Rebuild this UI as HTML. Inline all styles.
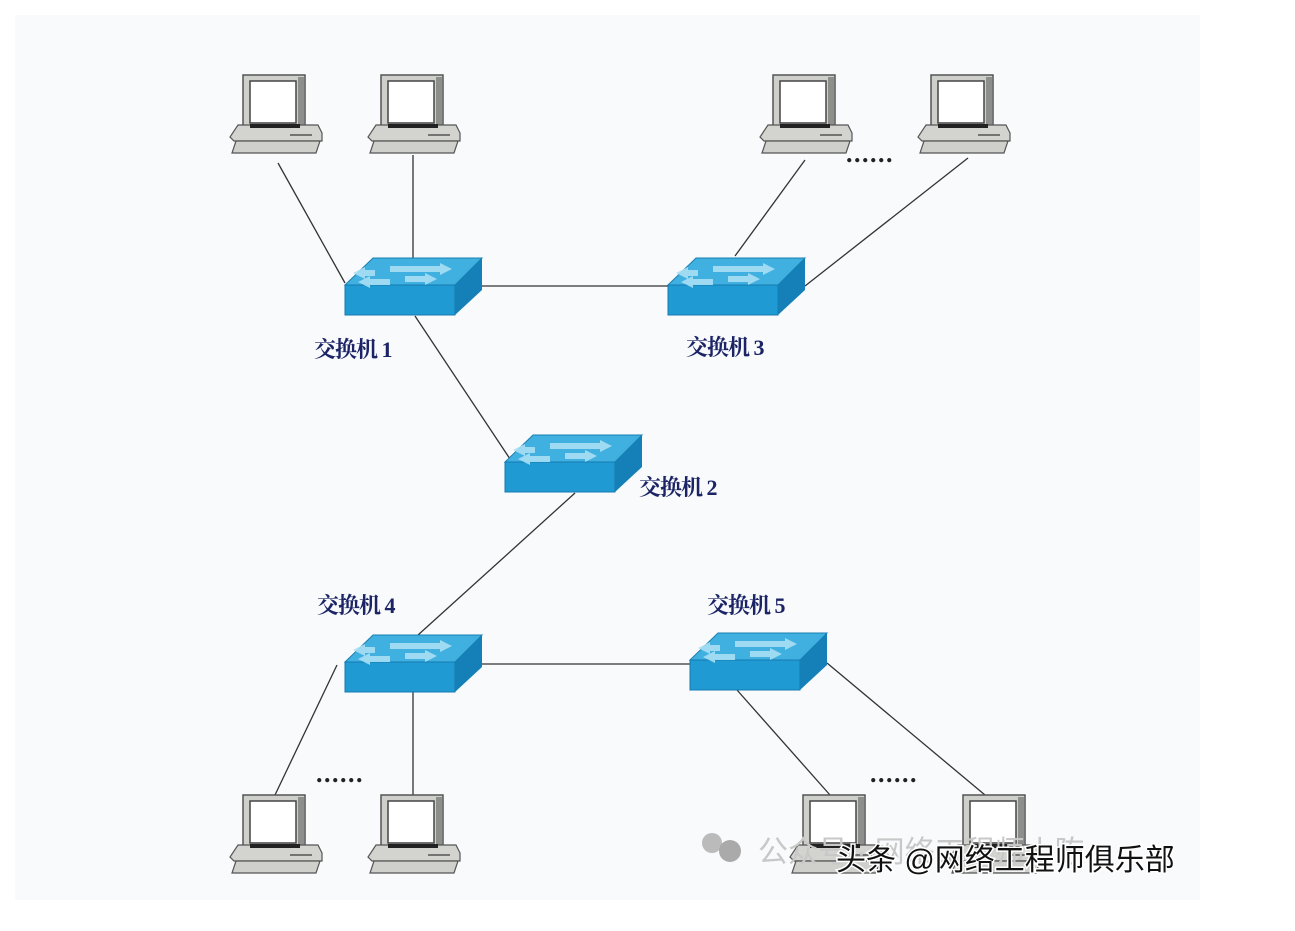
<!DOCTYPE html>
<html><head><meta charset="utf-8"><style>
body{margin:0;background:#fff;}
svg{display:block}
</style></head><body>
<svg width="1295" height="931" xmlns="http://www.w3.org/2000/svg" font-family="Liberation Serif, Noto Serif CJK SC, serif">
<defs>
<g id="pc">
 <rect x="13" y="0" width="62" height="55" fill="#cfd0cc" stroke="#555" stroke-width="1.5"/>
 <rect x="20" y="6" width="46" height="42" fill="#fff" stroke="#444" stroke-width="1.5"/>
 <rect x="68" y="2" width="6" height="52" fill="#8d8f8b"/>
 <polygon points="8,50 88,50 92,58 92,66 4,66 0,62" fill="#d3d4cf" stroke="#555" stroke-width="1.2"/>
 <rect x="20" y="49" width="50" height="4" fill="#222"/>
 <polygon points="6,66 90,66 86,78 2,78" fill="#cfd0cb" stroke="#555" stroke-width="1.2"/>
 <line x1="60" y1="60" x2="82" y2="60" stroke="#555" stroke-width="1.5"/>
</g>
<g id="sw">
 <polygon points="0,27 28,0 137,0 110,27" fill="#3fb0e0" stroke="#1a7fb0" stroke-width="1"/>
 <rect x="0" y="27" width="110" height="30" fill="#1f9ad2" stroke="#167ab0" stroke-width="1"/>
 <polygon points="110,27 137,0 137,32 110,57" fill="#1580b8"/>
 <path d="M45,8 h50 l0,-3 l12,6 l-12,6 v-3 h-50z" fill="#a9e0f5" opacity=".9"/>
 <path d="M30,12 h-10 l0,-3 l-12,6 l12,6 v-3 h10z" fill="#a9e0f5" opacity=".9"/>
 <path d="M60,18 h20 l0,-3 l12,6 l-12,6 v-3 h-20z" fill="#a9e0f5" opacity=".9"/>
 <path d="M45,21 h-20 l0,-3 l-12,6 l12,6 v-3 h20z" fill="#a9e0f5" opacity=".9"/>
</g>
</defs>
<rect x="15" y="15" width="1185" height="885" fill="#f8fafc"/>
<g stroke="#333" stroke-width="1.3" fill="none">
 <line x1="278" y1="163" x2="345" y2="283"/>
 <line x1="413" y1="155" x2="413" y2="258"/>
 <line x1="482" y1="286" x2="668" y2="286"/>
 <line x1="805" y1="160" x2="735" y2="256"/>
 <line x1="968" y1="158" x2="805" y2="286"/>
 <line x1="415" y1="316" x2="512" y2="462"/>
 <line x1="575" y1="493" x2="418" y2="635"/>
 <line x1="482" y1="664" x2="690" y2="664"/>
 <line x1="337" y1="665" x2="275" y2="795"/>
 <line x1="413" y1="692" x2="413" y2="795"/>
 <line x1="737" y1="690" x2="830" y2="795"/>
 <line x1="827" y1="663" x2="985" y2="795"/>
</g>
<use href="#pc" x="230" y="75"/>
<use href="#pc" x="368" y="75"/>
<use href="#pc" x="760" y="75"/>
<use href="#pc" x="918" y="75"/>
<use href="#pc" x="230" y="795"/>
<use href="#pc" x="368" y="795"/>
<use href="#pc" x="790" y="795"/>
<use href="#pc" x="950" y="795"/>
<use href="#sw" x="345" y="258"/>
<use href="#sw" x="668" y="258"/>
<use href="#sw" x="505" y="435"/>
<use href="#sw" x="345" y="635"/>
<use href="#sw" x="690" y="633"/>
<g fill="#1c2466" font-size="22" font-weight="bold" letter-spacing="-1">
 <text x="314" y="357">交换机 1</text>
 <text x="686" y="355">交换机 3</text>
 <text x="639" y="495">交换机 2</text>
 <text x="317" y="613">交换机 4</text>
 <text x="707" y="613">交换机 5</text>
</g>
<g fill="#222" font-size="26" font-weight="bold" letter-spacing="1.5">
 <text x="846" y="162">......</text>
 <text x="316" y="782">......</text>
 <text x="870" y="782">......</text>
</g>
<circle cx="712" cy="843" r="10" fill="#bbb"/>
<circle cx="730" cy="851" r="11" fill="#aaa"/>
<text x="758" y="862" font-family="Liberation Sans, Noto Sans CJK SC, sans-serif" font-size="30" fill="#c8c8c8">公众号 · 网络工程师小陈</text>
<text x="836" y="870" font-family="Liberation Sans, Noto Sans CJK SC, sans-serif" font-size="30" fill="#111" stroke="#fff" stroke-width="3" paint-order="stroke">头条 @网络工程师俱乐部</text>
</svg>
</body></html>
